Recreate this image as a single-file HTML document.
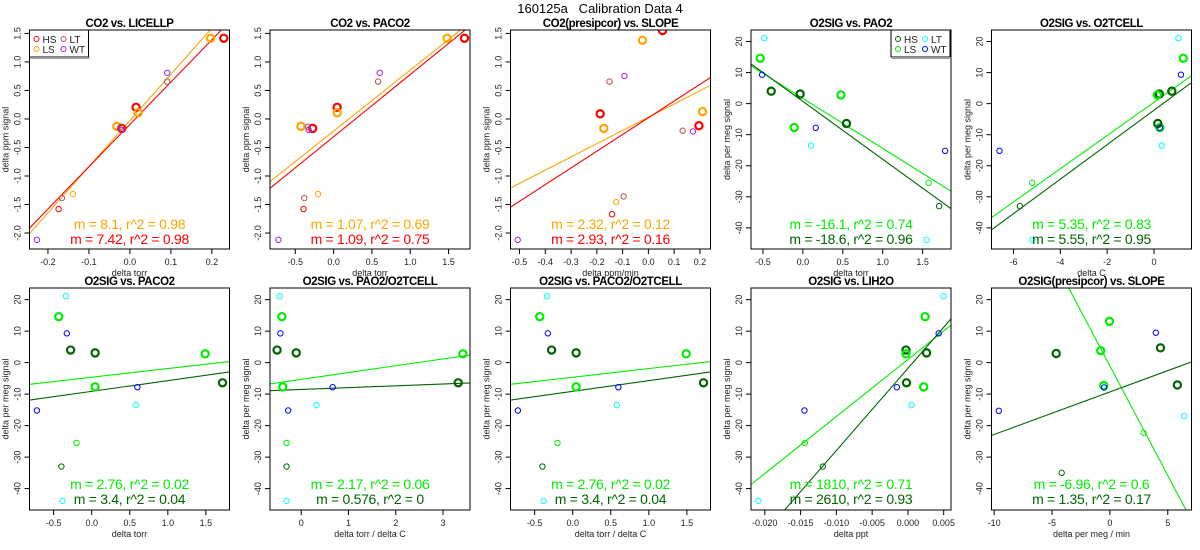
<!DOCTYPE html>
<html><head><meta charset="utf-8">
<style>
html,body{margin:0;padding:0;background:#fff;}
svg{display:block;font-family:"Liberation Sans",sans-serif;}
</style></head>
<body>
<svg id="chart" width="1200" height="550" viewBox="0 0 1200 550" xmlns="http://www.w3.org/2000/svg">
<text x="600" y="13" text-anchor="middle" font-size="13" xml:space="preserve" style="white-space:pre">160125a   Calibration Data 4</text>
</svg>
<script>
// ---- data ----
const co2Groups1 = ['HSb','LSb','HSb','LSb','LSb','HSb','WT','LT','LT','WT','LT','LS','HS','WT'];
const p1X = [0.229,0.197,0.015,0.020,-0.032,-0.02,0.091,0.091,-0.022,-0.021,-0.166,-0.139,-0.174,-0.227];
const p1Y = [1.415,1.415,0.205,0.11,-0.13,-0.165,0.81,0.655,-0.135,-0.19,-1.386,-1.316,-1.58,-2.12];
const p2X = [1.708,1.48,0.046,0.046,-0.427,-0.273,0.602,0.58,-0.335,-0.326,-0.383,-0.203,-0.392,-0.72];
const p2Y = [1.415,1.415,0.205,0.11,-0.13,-0.165,0.81,0.655,-0.135,-0.19,-1.386,-1.316,-1.58,-2.12];
const co2Groups3 = ['HSb','LSb','HSb','LSb','LSb','HSb','WT','LT','LT','WT','LT','LS','HS','WT'];
const p3X = [0.055,-0.023,-0.187,0.21,-0.173,0.196,-0.093,-0.151,0.133,0.173,-0.096,-0.125,-0.141,-0.507];
const p3Y = [1.55,1.38,0.09,0.13,-0.165,-0.118,0.755,0.655,-0.206,-0.218,-1.358,-1.458,-1.67,-2.12];
const o2Groups = ['LT','LSb','WT','HSb','HSb','LSb','LSb','HSb','WT','LT','WT','LS','HS','LT'];
const o2Y = [21.1,14.6,9.3,4.0,3.1,2.8,-7.7,-6.4,-7.8,-13.5,-15.2,-25.5,-33,-43.9];
const p4X = [-0.483,-0.534,-0.511,-0.397,-0.034,0.477,-0.109,0.546,0.161,0.103,1.782,1.575,1.707,1.552];
const p5X = [1.04,1.25,1.15,0.76,0.23,0.14,0.25,0.16,0.25,0.33,-6.6,-5.2,-5.73,-5.2];
const p6X = [-0.338,-0.433,-0.327,-0.277,0.045,1.49,0.045,1.718,0.6,0.58,-0.72,-0.2,-0.398,-0.383];
const p7X = [-0.46,-0.41,-0.44,-0.51,-0.105,3.42,-0.39,3.32,0.665,0.324,-0.276,-0.31,-0.31,-0.31];
const p9X = [0.00498,0.0024,0.0043,-0.00027,0.0026,-0.00027,0.0022,-0.0002,-0.00155,0.0005,-0.01446,-0.0144,-0.01189,-0.0209];
const p10Groups = ['LSb','WT','HSb','HSb','LSb','LSb','WT','HSb','WT','LT','LS','HS'];
const p10X = [-0.04,3.97,4.37,-4.64,-0.79,-0.53,-0.5,5.83,-9.6,6.42,2.91,-4.17];
const p10Y = [13.1,9.5,4.7,2.9,3.8,-7.3,-7.9,-7.1,-15.3,-17,-22.3,-35];
// fits: [slope, intercept] first LS-colour line, second HS-colour line
const fitSlopes = [[8.1,7.42],[1.07,1.09],[2.32,2.93],[-16.1,-18.6],[5.35,5.55],[2.76,3.4],[2.17,0.576],[2.76,3.4],[1810,2610],[-6.96,1.35]];
const fitIntercepts = [[-0.027,-0.095],[-0.212,-0.311],[0.031,0.021],[1.7,0.7],[0.44,-2.1],[-4.64,-9.12],[-5.33,-8.52],[-4.64,-9.12],[0.99,-1.81],[-1.05,-9.3]];
const fitLabels = [["m = 8.1, r^2 = 0.98","m = 7.42, r^2 = 0.98"],["m = 1.07, r^2 = 0.69","m = 1.09, r^2 = 0.75"],["m = 2.32, r^2 = 0.12","m = 2.93, r^2 = 0.16"],["m = -16.1, r^2 = 0.74","m = -18.6, r^2 = 0.96"],["m = 5.35, r^2 = 0.83","m = 5.55, r^2 = 0.95"],["m = 2.76, r^2 = 0.02","m = 3.4, r^2 = 0.04"],["m = 2.17, r^2 = 0.06","m = 0.576, r^2 = 0"],["m = 2.76, r^2 = 0.02","m = 3.4, r^2 = 0.04"],["m = 1810, r^2 = 0.71","m = 2610, r^2 = 0.93"],["m = -6.96, r^2 = 0.6","m = 1.35, r^2 = 0.17"]];
const titles = ["CO2 vs. LICELLP","CO2 vs. PACO2","CO2(presipcor) vs. SLOPE","O2SIG vs. PAO2","O2SIG vs. O2TCELL","O2SIG vs. PACO2","O2SIG vs. PAO2/O2TCELL","O2SIG vs. PACO2/O2TCELL","O2SIG vs. LIH2O","O2SIG(presipcor) vs. SLOPE"];
const xLabels = ["delta torr","delta torr","delta ppm/min","delta torr","delta C","delta torr","delta torr / delta C","delta torr / delta C","delta ppt","delta per meg / min"];
const xLims = [[-0.245,0.243],[-0.83,1.78],[-0.535,0.241],[-0.65,1.856],[-6.94,1.6],[-0.817,1.81],[-0.66,3.57],[-0.817,1.81],[-0.02193,0.00602],[-10.23,7.05]];
const xTicks = [[-0.2,-0.1,0,0.1,0.2],[-0.5,0,0.5,1,1.5],[-0.5,-0.4,-0.3,-0.2,-0.1,0,0.1,0.2],[-0.5,0,0.5,1,1.5],[-6,-4,-2,0],[-0.5,0,0.5,1,1.5],[0,1,2,3],[-0.5,0,0.5,1,1.5],[-0.02,-0.015,-0.01,-0.005,0,0.005],[-10,-5,0,5]];
const xTickLabels = [["-0.2","-0.1","0.0","0.1","0.2"],["-0.5","0.0","0.5","1.0","1.5"],["-0.5","-0.4","-0.3","-0.2","-0.1","0.0","0.1","0.2"],["-0.5","0.0","0.5","1.0","1.5"],["-6","-4","-2","0"],["-0.5","0.0","0.5","1.0","1.5"],["0","1","2","3"],["-0.5","0.0","0.5","1.0","1.5"],["-0.020","-0.015","-0.010","-0.005","0.000","0.005"],["-10","-5","0","5"]];
const co2YLim = [-2.28,1.56];
const co2YTicks = [-2,-1.5,-1,-0.5,0,0.5,1,1.5];
const co2YTickLabels = ["-2.0","-1.5","-1.0","-0.5","0.0","0.5","1.0","1.5"];
const o2YLim = [-46.8,23.7];
const o2YTicks = [-40,-30,-20,-10,0,10,20];
const o2YTickLabels = ["-40","-30","-20","-10","0","10","20"];

const panelX = [p1X,p2X,p3X,p4X,p5X,p6X,p7X,p6X,p9X,p10X];
const panelY = [p1Y,p2Y,p3Y,o2Y,o2Y,o2Y,o2Y,o2Y,o2Y,p10Y];
const panelG = [co2Groups1,co2Groups1,co2Groups3,o2Groups,o2Groups,o2Groups,o2Groups,o2Groups,o2Groups,p10Groups];

const co2Col = {HSb:'#ff0000',LSb:'#ffa500',HS:'#ff0000',LS:'#ffa500',LT:'#b5534f',WT:'#a020f0'};
const o2Col = {HSb:'#006400',LSb:'#00ee00',HS:'#006400',LS:'#00ee00',LT:'#00ffff',WT:'#0000ff'};

const NS='http://www.w3.org/2000/svg';
const svg=document.getElementById('chart');
function mk(tag,attrs,parent){const e=document.createElementNS(NS,tag);for(const k in attrs)e.setAttribute(k,attrs[k]);(parent||svg).appendChild(e);return e;}

for(let p=0;p<10;p++){
  const row=Math.floor(p/5), col=p%5;
  const L=29.5+col*240.5, R=L+200, T=row?288:30, B=row?510:249;
  const isCO2=p<3;
  const yl=isCO2?co2YLim:o2YLim;
  const xl=xLims[p];
  const sx=v=>L+(v-xl[0])/(xl[1]-xl[0])*(R-L);
  const sy=v=>B-(v-yl[0])/(yl[1]-yl[0])*(B-T);
  const cols=isCO2?co2Col:o2Col;
  const g=mk('g',{});
  
  
  const cp=mk('clipPath',{id:'cp'+p},g);
  mk('rect',{x:L,y:T,width:R-L,height:B-T},cp);
  const t=mk('text',{x:(L+R)/2,y:T-3,'text-anchor':'middle','font-size':11.5,'font-weight':'bold','letter-spacing':'-0.4'},g);
  t.textContent=titles[p];
  
  
  // y axis
  const yt=isCO2?co2YTicks:o2YTicks, ytl=isCO2?co2YTickLabels:o2YTickLabels;
  yt.forEach((v,i)=>{
    const y=sy(v);
    const tk=mk('line',{x1:L-5,x2:L,y1:y,y2:y,stroke:'#000','stroke-width':1},g);
    
    
    const lb=mk('text',{x:L-9,y:y,'text-anchor':'middle','font-size':9,transform:`rotate(-90 ${L-9} ${y})`,fill:'#222'},g);
    lb.textContent=ytl[i];
    
    
  });
  const yla=mk('text',{x:L-21,y:(T+B)/2,'text-anchor':'middle','font-size':9,transform:`rotate(-90 ${L-21} ${(T+B)/2})`,fill:'#222'},g);
  yla.textContent=isCO2?'delta ppm signal':'delta per meg signal';
  
  
  // x axis
  xTicks[p].forEach((v,i)=>{
    const x=sx(v);
    const tk=mk('line',{x1:x,x2:x,y1:B,y2:B+5,stroke:'#000','stroke-width':1},g);
    
    
    const lb=mk('text',{x:x,y:B+16,'text-anchor':'middle','font-size':9,fill:'#222'},g);
    lb.textContent=xTickLabels[p][i];
    
    
  });
  const xla=mk('text',{x:(L+R)/2,y:B+27,'text-anchor':'middle','font-size':9,fill:'#222'},g);
  xla.textContent=xLabels[p];
  
  
  // fit lines
  const lc=[cols.LSb,cols.HSb];
  for(let k=0;k<2;k++){
    const m=fitSlopes[p][k], b=fitIntercepts[p][k];
    const ln=mk('line',{x1:sx(xl[0]),y1:sy(b+m*xl[0]),x2:sx(xl[1]),y2:sy(b+m*xl[1]),stroke:lc[k],'stroke-width':1.1,'clip-path':`url(#cp${p})`},g);
    
    
  }
  // points
  const xs=panelX[p], ys=panelY[p], gs=panelG[p];
  for(let i=0;i<xs.length;i++){
    const bold=gs[i].endsWith('b');
    const c=mk('circle',{cx:sx(xs[i]),cy:sy(ys[i]),r:bold?3.6:2.7,fill:'none',stroke:cols[gs[i]],'stroke-width':bold?2.2:1,'clip-path':`url(#cp${p})`},g);
    
    
  }
  // annotations
  for(let k=0;k<2;k++){
    const a=mk('text',{x:(L+R)/2,y:row?(k?504:489):(k?244:229),'text-anchor':'middle','font-size':14,'letter-spacing':'-0.3',fill:lc[k]},g);
    a.textContent=fitLabels[p][k];
    
    
  }
  const box=mk('rect',{x:L,y:T,width:R-L,height:B-T,fill:'none',stroke:'#000','stroke-width':1},g);
  
  
  // legends
  if(p===0||p===3){
    const lx=p===0?L:R-60, ly=T;
    const lg=mk('g',{},g);
    
    
    mk('rect',{x:lx,y:ly,width:59,height:27,fill:'#fff',stroke:'#000','stroke-width':1},lg);
    mk('line',{x1:lx+1,x2:lx+60,y1:ly+28,y2:ly+28,stroke:'#999','stroke-width':2},lg);
    const ents=[['HS',0,0],['LT',1,0],['LS',0,1],['WT',1,1]];
    ents.forEach(e=>{
      const ex=lx+7+e[1]*27, ey=ly+9+e[2]*10;
      const ent=mk('g',{},lg);
      
      
      mk('circle',{cx:ex,cy:ey,r:2.5,fill:'none',stroke:cols[e[0]],'stroke-width':1},ent);
      const tx=mk('text',{x:ex+6,y:ey+4,'font-size':10,fill:'#222'},ent);
      tx.textContent=e[0];
    });
  }
}
</script>
</body></html>
